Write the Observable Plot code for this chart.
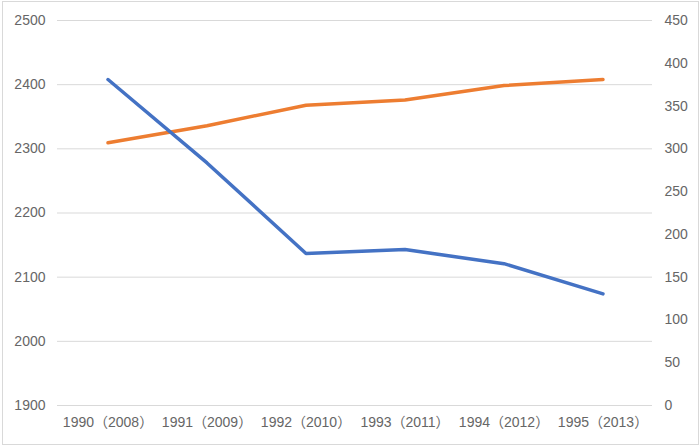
<!DOCTYPE html>
<html>
<head>
<meta charset="utf-8">
<script src="https://cdn.jsdelivr.net/npm/d3@7"></script>
<script src="https://cdn.jsdelivr.net/npm/@observablehq/plot@0.6"></script>
<style>
  html, body { margin: 0; padding: 0; background: #fff; }
  #wrap { position: relative; width: 700px; height: 447px; }
  #border { position: absolute; left: 2px; top: 1px; width: 695px; height: 442px; border: 1px solid #d9d9d9; pointer-events: none; }
</style>
</head>
<body>
<div id="wrap"><div id="border"></div></div>
<script>
const categories = ["1990（2008）", "1991（2009）", "1992（2010）", "1993（2011）", "1994（2012）", "1995（2013）"];
const blueValues = [2408, 2278, 2137, 2143, 2121, 2074];   // left axis
const orangeValues = [307, 327, 351, 357, 374, 381];       // right axis
const leftTicks = [1900, 2000, 2100, 2200, 2300, 2400, 2500];
const rightTicks = [0, 50, 100, 150, 200, 250, 300, 350, 400, 450];

const L0 = 1900, L1 = 2500, R0 = 0, R1 = 450;
const toLeft = v => L0 + (v - R0) * (L1 - L0) / (R1 - R0);

const blue = categories.map((c, i) => ({c, v: blueValues[i]}));
const orange = categories.map((c, i) => ({c, v: toLeft(orangeValues[i])}));

const fontFamily = "'Liberation Sans', Arial, 'Noto Sans CJK SC', sans-serif";

const chart = Plot.plot({
  width: 700,
  height: 447,
  marginLeft: 57,
  marginRight: 48,
  marginTop: 20,
  marginBottom: 42,
  style: {fontFamily, fontSize: "14px", color: "#666666", background: "transparent"},
  x: {type: "band", domain: categories, padding: 0, align: 0.5},
  y: {domain: [L0, L1]},
  marks: [
    Plot.ruleY(leftTicks, {stroke: "#d9d9d9", strokeWidth: 1}),
    Plot.axisY(leftTicks, {anchor: "left", tickSize: 0, tickPadding: 12, label: null, fill: "#666666", tickFormat: d => String(d)}),
    Plot.axisY(rightTicks.map(toLeft), {anchor: "right", tickSize: 0, tickPadding: 12, label: null, fill: "#666666",
      tickFormat: d => String(Math.round((d - L0) * (R1 - R0) / (L1 - L0) + R0))}),
    Plot.axisX({tickSize: 0, tickPadding: 12, label: null, fill: "#666666"}),
    Plot.lineY(orange, {x: "c", y: "v", stroke: "#ED7D31", strokeWidth: 3.5, strokeLinecap: "round", strokeLinejoin: "round"}),
    Plot.lineY(blue, {x: "c", y: "v", stroke: "#4472C4", strokeWidth: 3.5, strokeLinecap: "round", strokeLinejoin: "round"})
  ]
});
document.getElementById("wrap").prepend(chart);
</script>
</body>
</html>
